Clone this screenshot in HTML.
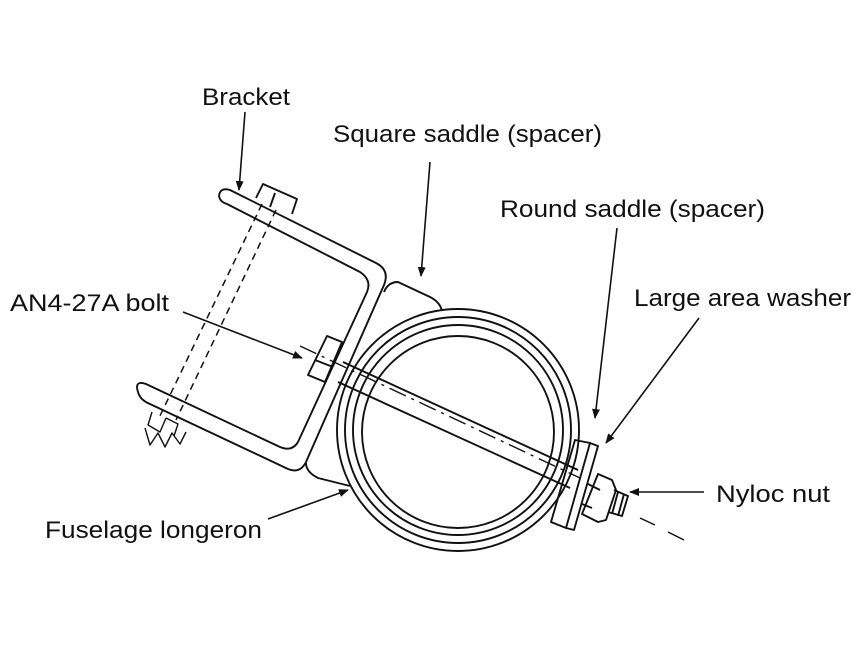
<!DOCTYPE html>
<html><head><style>
html,body{margin:0;padding:0;background:#fff;}
svg{display:block;}
text{font-family:"Liberation Sans",sans-serif;font-size:24px;fill:#111;}
</style></head><body>
<svg width="864" height="668" viewBox="0 0 864 668" xmlns="http://www.w3.org/2000/svg">
<defs><marker id="a" markerWidth="10" markerHeight="10" refX="9" refY="5" orient="auto" markerUnits="userSpaceOnUse"><path d="M0,1 L10,5 L0,9 Z" fill="#111"/></marker></defs>
<g fill="none" stroke="#111" stroke-width="1.9" stroke-linejoin="round">
<!-- longeron rings -->
<circle cx="458" cy="430" r="121"/>
<circle cx="458" cy="430" r="113"/>
<circle cx="458" cy="430" r="105"/>
<circle cx="458" cy="432" r="96"/>
<!-- square saddle -->
<path d="M384,292 Q388,282 398,282 L430,297 Q440,302 442,311"/>
<path d="M306,463 Q306,472 318,478 L350,486"/>
<!-- bracket -->
<path d="M227,204 L360,272 Q372,280 367,292 L298,442 Q292,452 280,447 L146,384 Q134,380 138,392 Q140,400 150,404 L288,469 Q300,474 306,462 L384,285 Q390,270 376,263 L230,190 Q220,187 219,196 Q220,202 227,204 Z"/>
<!-- top bolt head -->
<path d="M256,198 L263,184 L297,199 L292,214"/>
<path d="M275,193 L270,207"/>
<!-- dashed bolt shank -->
<path d="M262,204 L158,420 M276,210 L176,420" stroke-dasharray="7,5" stroke-width="1.5"/>
<!-- bottom nut -->
<path d="M152,412 L148,425 L160,432 L166,418 M166,418 L178,424 L174,436 M145,428 L150,445 L158,433 L165,447 L172,433 L180,444 L186,432" stroke-width="1.4"/>
<!-- main bolt head -->
<path d="M308,375 L327,336 L342,342 L325,382 Z M315,360 L333,367"/>
<!-- bolt shank -->
<path d="M343,362 L578,470 M338,382 L570,488"/>
<path d="M300,346 L580,478" stroke-dasharray="18,6,3,6" stroke-width="1.4"/>
<!-- round saddle/washer -->
<path d="M575,440 L590,443 L566,528 L551,522 Z"/>
<path d="M590,443 L598,446 L574,530 L566,528"/>
<!-- nut -->
<path d="M598,474 L612,480 L616,490 L606,520 L598,522 L582,514 Z M600,490 L588,484 M592,508 L582,504"/>
<path d="M614,490 L628,496 L622,516 L608,512 M618,492 L612,514 M624,494 L618,516"/>
<path d="M640,518 L655,525 M668,532 L684,540" stroke-width="1.5"/>
<!-- leaders -->
<g stroke-width="1.6">
<path d="M245,112 L239,190" marker-end="url(#a)"/>
<path d="M430,162 L421,276" marker-end="url(#a)"/>
<path d="M617,228 L595,418" marker-end="url(#a)"/>
<path d="M699,318 L606,443" marker-end="url(#a)"/>
<path d="M183,312 L302,358" marker-end="url(#a)"/>
<path d="M704,492 L630,492" marker-end="url(#a)"/>
<path d="M268,519 L348,490" marker-end="url(#a)"/>
</g>
</g>
<text x="202" y="105" textLength="88" lengthAdjust="spacingAndGlyphs">Bracket</text>
<text x="333" y="142" textLength="269" lengthAdjust="spacingAndGlyphs">Square saddle (spacer)</text>
<text x="500" y="217" textLength="265" lengthAdjust="spacingAndGlyphs">Round saddle (spacer)</text>
<text x="634" y="306" textLength="217" lengthAdjust="spacingAndGlyphs">Large area washer</text>
<text x="10" y="311" textLength="159" lengthAdjust="spacingAndGlyphs">AN4-27A bolt</text>
<text x="716" y="502" textLength="114" lengthAdjust="spacingAndGlyphs">Nyloc nut</text>
<text x="45" y="538" textLength="217" lengthAdjust="spacingAndGlyphs">Fuselage longeron</text>
</svg>
</body></html>
